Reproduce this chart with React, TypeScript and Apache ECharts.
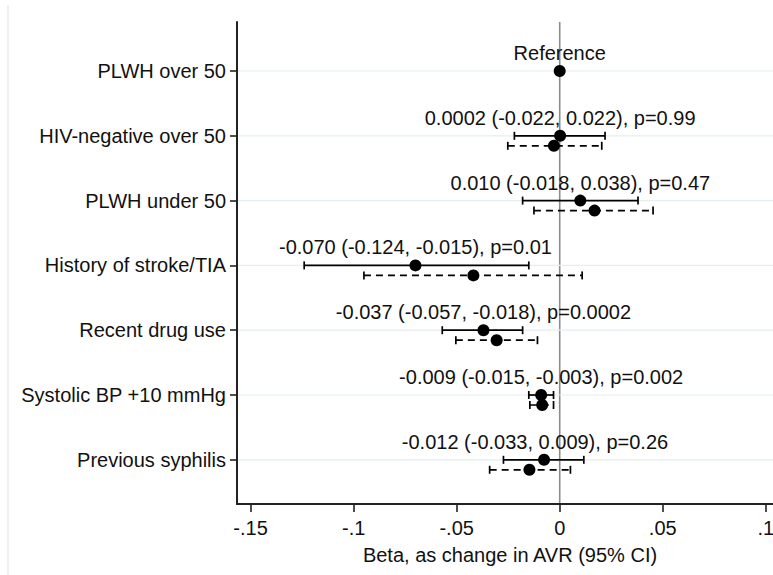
import React, { useEffect, useRef } from 'react';
import * as echarts from 'echarts';

const categories = [
  'PLWH over 50',
  'HIV-negative over 50',
  'PLWH under 50',
  'History of stroke/TIA',
  'Recent drug use',
  'Systolic BP +10 mmHg',
  'Previous syphilis',
];

// Solid estimate (upper marker of each row)
const solidBeta = [0, 0.0002, 0.010, -0.070, -0.037, -0.009, -0.0076];
const solidLow = [null, -0.022, -0.018, -0.124, -0.057, -0.015, -0.0273];
const solidHigh = [null, 0.022, 0.038, -0.015, -0.018, -0.003, 0.0117];

// Dashed estimate (lower marker of each row)
const dashedBeta = [null, -0.0028, 0.0169, -0.0419, -0.0306, -0.0085, -0.0147];
const dashedLow = [null, -0.0252, -0.0125, -0.095, -0.0504, -0.0145, -0.034];
const dashedHigh = [null, 0.0204, 0.0453, 0.0109, -0.0108, -0.003, 0.0052];

const annotationText = [
  'Reference',
  '0.0002 (-0.022, 0.022), p=0.99',
  '0.010 (-0.018, 0.038), p=0.47',
  '-0.070 (-0.124, -0.015), p=0.01',
  '-0.037 (-0.057, -0.018), p=0.0002',
  '-0.009 (-0.015, -0.003), p=0.002',
  '-0.012 (-0.033, 0.009), p=0.26',
];
const annotationBeta = [0, 0.0002, 0.010, -0.070, -0.037, -0.009, -0.012];

const xTickValues = [-0.15, -0.1, -0.05, 0, 0.05, 0.1];
const xTickLabels = ['-.15', '-.1', '-.05', '0', '.05', '.1'];
const xTitle = 'Beta, as change in AVR (95% CI)';

const FONT = '"Liberation Sans", Arial, Helvetica, sans-serif';
const FS = 20;
const INK = '#111111';

const rows = categories.map((_, i) => i + 1);

function ciSeries(low: (number | null)[], high: (number | null)[], dashed: boolean) {
  const data: number[][] = [];
  low.forEach((l, i) => {
    const h = high[i];
    if (l !== null && h !== null) data.push([l, h, rows[i]]);
  });
  const offset = dashed ? 10 : 0;
  return {
    type: 'custom',
    silent: true,
    z: 3,
    encode: { x: [0, 1], y: 2 },
    data,
    renderItem: (params: any, api: any) => {
      const a = api.coord([api.value(0), api.value(2)]);
      const b = api.coord([api.value(1), api.value(2)]);
      const y = a[1] + offset;
      const lineStyle: any = { stroke: '#000', lineWidth: 1.7 };
      if (dashed) lineStyle.lineDash = [7, 5];
      const capStyle = { stroke: '#000', lineWidth: 1.7 };
      return {
        type: 'group',
        children: [
          { type: 'line', shape: { x1: a[0], y1: y, x2: b[0], y2: y }, style: lineStyle },
          { type: 'line', shape: { x1: a[0], y1: y - 4, x2: a[0], y2: y + 4 }, style: capStyle },
          { type: 'line', shape: { x1: b[0], y1: y - 4, x2: b[0], y2: y + 4 }, style: capStyle },
        ],
      };
    },
  };
}

function dotSeries(beta: (number | null)[], dashed: boolean) {
  const data: number[][] = [];
  beta.forEach((b, i) => {
    if (b !== null) data.push([b, rows[i]]);
  });
  return {
    type: 'scatter',
    silent: true,
    z: 5,
    symbol: 'circle',
    symbolSize: 12,
    symbolOffset: [0, dashed ? 10 : 0],
    itemStyle: { color: '#000', opacity: 1 },
    data,
  };
}

export default function App() {
  const ref = useRef<HTMLDivElement>(null);

  useEffect(() => {
    document.body.style.margin = '0';
    if (!ref.current) return;
    const chart = echarts.init(ref.current, null, { renderer: 'svg' });

    const option: any = {
      animation: false,
      backgroundColor: '#ffffff',
      textStyle: { fontFamily: FONT },
      grid: {
        left: 237,
        right: 0,
        top: 22,
        bottom: 71,
        containLabel: false,
        outerBoundsMode: 'none',
      },
      xAxis: {
        type: 'value',
        min: -0.1566,
        max: 0.1035,
        z: 4,
        axisLine: { show: true, onZero: false, lineStyle: { color: '#222', width: 2 } },
        axisTick: {
          show: true,
          customValues: xTickValues,
          length: 8,
          lineStyle: { color: '#222', width: 1.6 },
        },
        axisLabel: {
          show: true,
          customValues: xTickValues,
          margin: 14,
          fontSize: FS,
          fontFamily: FONT,
          color: INK,
          formatter: (v: number) => {
            let best = 0;
            xTickValues.forEach((t, i) => {
              if (Math.abs(t - v) < Math.abs(xTickValues[best] - v)) best = i;
            });
            return xTickLabels[best];
          },
        },
        splitLine: { show: false },
      },
      yAxis: {
        type: 'value',
        inverse: true,
        min: 0.2438,
        max: 7.682,
        z: 4,
        axisLine: { show: true, onZero: false, lineStyle: { color: '#222', width: 2 } },
        axisTick: {
          show: true,
          customValues: rows,
          length: 7,
          lineStyle: { color: '#222', width: 1.6 },
        },
        axisLabel: {
          show: true,
          customValues: rows,
          margin: 11,
          fontSize: FS,
          fontFamily: FONT,
          color: INK,
          formatter: (v: number) => categories[Math.round(v) - 1] ?? '',
        },
        splitLine: { show: false },
      },
      graphic: [
        {
          type: 'rect',
          shape: { x: 7, y: 5, width: 2, height: 570 },
          style: { fill: '#edf1f4' },
          silent: true,
        },
        {
          type: 'text',
          x: 510,
          y: 555,
          style: {
            text: xTitle,
            fill: INK,
            fontSize: FS,
            fontFamily: FONT,
            align: 'center',
            verticalAlign: 'middle',
          },
          silent: true,
        },
      ],
      series: [
        {
          // horizontal row gridlines and vertical zero reference line
          type: 'custom',
          silent: true,
          z: 1,
          encode: { y: 0 },
          data: rows.map((r) => [r]),
          renderItem: (params: any, api: any) => {
            const cs = params.coordSys;
            const y = api.coord([0, api.value(0)])[1];
            const children: any[] = [
              {
                type: 'line',
                shape: { x1: cs.x, y1: y, x2: cs.x + cs.width, y2: y },
                style: { stroke: '#e3edf2', lineWidth: 1.2 },
              },
            ];
            if (params.dataIndex === 0) {
              const x0 = api.coord([0, 1])[0];
              children.push({
                type: 'line',
                shape: { x1: x0, y1: cs.y, x2: x0, y2: cs.y + cs.height },
                style: { stroke: '#8c8c8c', lineWidth: 1.6 },
              });
            }
            return { type: 'group', children };
          },
        },
        ciSeries(solidLow, solidHigh, false),
        ciSeries(dashedLow, dashedHigh, true),
        dotSeries(solidBeta, false),
        dotSeries(dashedBeta, true),
        {
          type: 'custom',
          silent: true,
          z: 6,
          encode: { x: 0, y: 1 },
          data: annotationBeta.map((b, i) => [b, rows[i]]),
          renderItem: (params: any, api: any) => {
            const p = api.coord([api.value(0), api.value(1)]);
            return {
              type: 'text',
              x: p[0],
              y: p[1] - 18,
              style: {
                text: annotationText[params.dataIndex],
                fill: INK,
                fontSize: FS,
                fontFamily: FONT,
                align: 'center',
                verticalAlign: 'middle',
              },
            };
          },
        },
      ],
    };

    chart.setOption(option);
    return () => {
      chart.dispose();
    };
  }, []);

  return (
    <div
      ref={ref}
      style={{ position: 'absolute', left: 0, top: 0, width: 773, height: 575 }}
    />
  );
}
